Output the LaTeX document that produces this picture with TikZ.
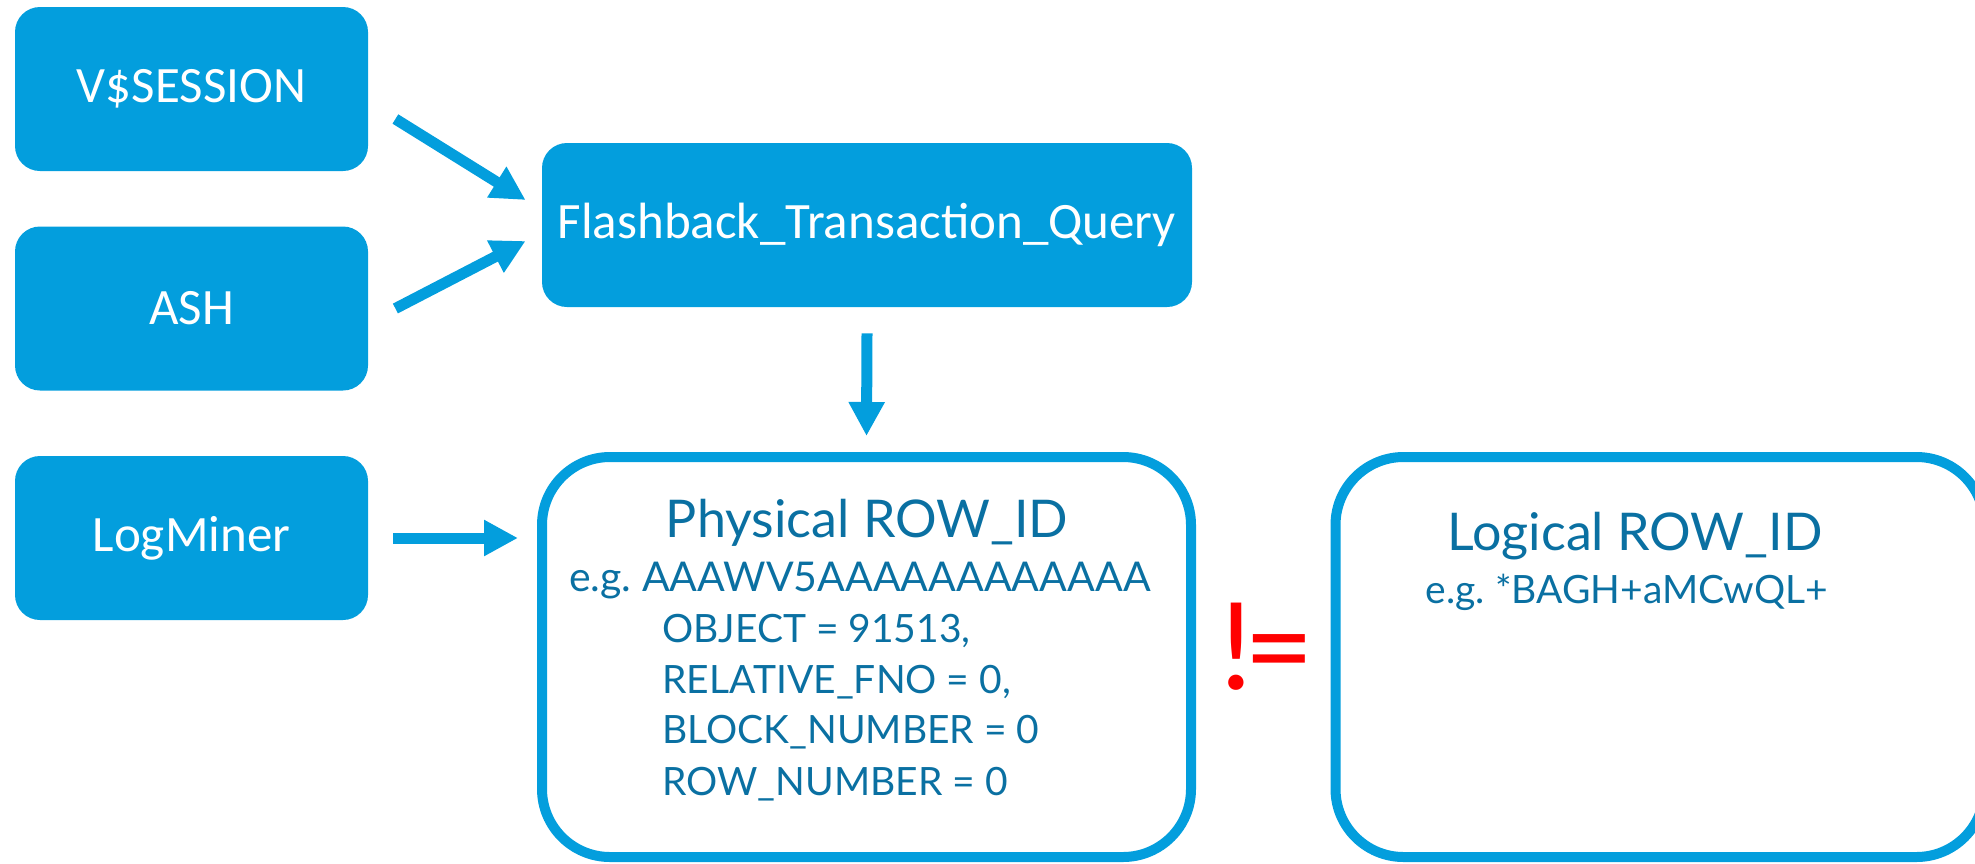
\documentclass[tikz,border=0pt]{standalone}
\usepackage{fontspec}
\setmainfont{Carlito}
\newfontfamily\latofont{Lato}
\usetikzlibrary{arrows.meta}
\usetikzlibrary{calc}
\usetikzlibrary{positioning}
\definecolor{boxblue}{RGB}{3,158,221}
\definecolor{textblue}{RGB}{10,112,162}

\begin{document}
\begin{tikzpicture}[x=0.5pt, y=-0.5pt]
	\useasboundingbox (0,0) rectangle (1975,863);
	\begin{scope}[every node/.style={rectangle, rounded corners=12.5pt, fill=boxblue, text=white, minimum width=176.5pt, minimum height=82pt, font=\fontsize{25.5}{30}\selectfont}]
		\node (vs) at (191.5,89) {V\$SESSION};
		\node (ash) at (191.5,308.5) {ASH};
		\node (lm) at (191.5,538) {LogMiner};
		\node[minimum width=325pt] (ftq) at (867,225) {Flashback\_Transaction\_Query};
	\end{scope}
	\begin{scope}[every node/.style={rectangle, rounded corners=34pt, draw=boxblue, line width=5pt, minimum width=324.5pt, minimum height=200pt}]
		\node (phys) at (866.5,657) {};
		\node (logi) at (1660,657) {};
	\end{scope}
	\begin{scope}[every node/.style={text=textblue, inner sep=0pt, font=\latofont\fontsize{19.5}{24}\selectfont}]
		\node[anchor=base, font=\latofont\fontsize{26}{30}\selectfont] (ptitle) at (867,537) {Physical ROW\_ID};
		\node[anchor=base, font=\latofont\fontsize{20.5}{24}\selectfont] (pex) at (860,591) {e.g.\ AAAWV5AAAAAAAAAAAA};
		\node[anchor=base west] (pobj) at (662,642) {OBJECT = 91513,};
		\node[anchor=base west] (pfno) at (662,693) {RELATIVE\_FNO = 0,};
		\node[anchor=base west] (pblk) at (662,743) {BLOCK\_NUMBER = 0};
		\node[anchor=base west] (prow) at (662,795) {ROW\_NUMBER = 0};
		\node[anchor=base, font=\latofont\fontsize{26}{30}\selectfont] (ltitle) at (1635,550) {Logical ROW\_ID};
		\node[anchor=base] (lex) at (1627,603) {e.g.\ *BAGH+aMCwQL+};
		\node[anchor=base, text=red, font=\fontsize{64}{70}\selectfont] (neq) at (1263,689) {!\kern-5pt=};
	\end{scope}
	\begin{scope}[>={Triangle[length=17pt, width=17pt]},
	              every edge/.style={draw=boxblue, line width=5.5pt, ->}]
		\path ($(vs.east)+(27,30)$) edge ($(ftq.west)+(-16,-25)$);
		\path ($(ash.east)+(27,0)$) edge ($(ftq.west)+(-16,16)$);
		\path ($(lm.east)+(25,0)$) edge ($(lm.east -| phys.west)+(-19,0)$);
		\path ($(ftq.south)+(0,26)$) edge ($(phys.north)+(0,-16)$);
	\end{scope}
\end{tikzpicture}
\end{document}
